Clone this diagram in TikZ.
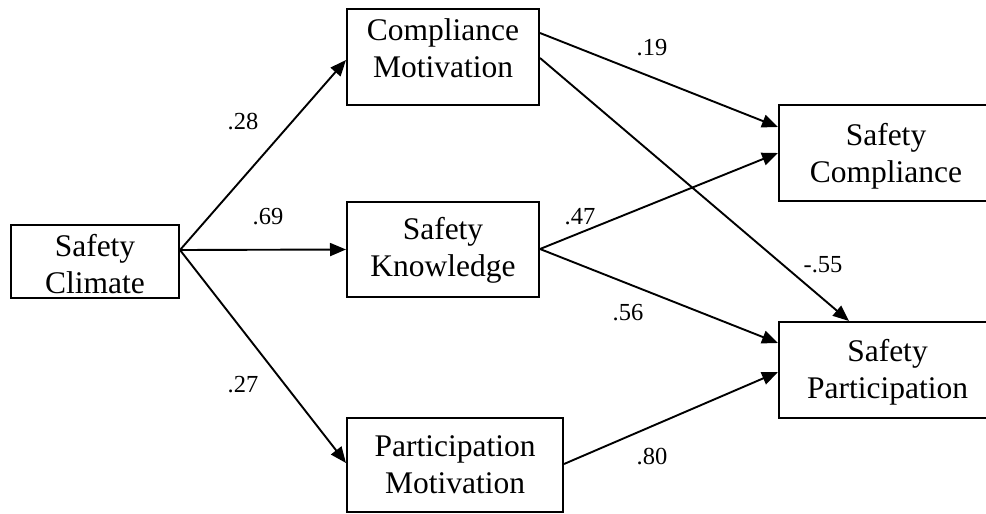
\documentclass[tikz,border=0pt]{standalone}
\usepackage{fontspec}
\setmainfont{Liberation Serif}
\usetikzlibrary{arrows.meta,calc}
\begin{document}
\begin{tikzpicture}[x=1pt,y=-1pt,
  box/.style={draw, line width=2pt, inner sep=0pt},
  boxtext/.style={align=center, inner sep=0pt, font=\fontsize{31.5}{36.7}\selectfont},
  effect/.style={line width=1.9pt, -{Triangle[length=16pt,width=13pt]}},
  coef/.style={inner sep=0pt, font=\fontsize{24.5}{28}\selectfont}]
\useasboundingbox (0,0) rectangle (986,514);
\fill[white] (0,0) rectangle (986,514);

% constructs
\node[box, minimum width=168pt, minimum height=73pt] (sc) at (95,261.5) {};
\node[box, minimum width=192pt, minimum height=96pt] (cm) at (443,57) {};
\node[box, minimum width=192pt, minimum height=95pt] (sk) at (443,249.5) {};
\node[box, minimum width=216pt, minimum height=94pt] (pm) at (455,465) {};
\node[box, minimum width=212pt, minimum height=96pt] (sco) at (885,153) {};
\node[box, minimum width=212pt, minimum height=96pt] (sp) at (885,370) {};

% construct names
\node[boxtext] (sc-t) at (95,264) {Safety\\Climate};
\node[boxtext] (cm-t) at (443,48.5) {Compliance\\Motivation};
\node[boxtext] (sk-t) at (443,250.5) {Safety\\Knowledge};
\node[boxtext] (pm-t) at (455,465) {Participation\\Motivation};
\node[boxtext] (sco-t) at (886,156.5) {Safety\\Compliance};
\node[boxtext] (sp-t) at (887.5,372) {Safety\\Participation};

% paths
\coordinate (src) at ($(sc.east)+(0,-11.5)$);
\draw[effect] (src) -- ($(cm.west)+(0,3)$);
\draw[effect] (src) -- (sk.west);
\draw[effect] (src) -- ($(pm.west)+(0,-2)$);
\draw[effect] ($(cm.east)+(0,-24)$) -- ($(sco.west)+(0,-26)$);
\draw[effect] ($(cm.east)+(0,1)$) -- ($(sp.north)+(-36,0)$);
\draw[effect] ($(sk.east)+(0,-0.5)$) -- (sco.west);
\draw[effect] ($(sk.east)+(0,-0.5)$) -- ($(sp.west)+(0,-27)$);
\draw[effect] ($(pm.east)+(0,-1)$) -- ($(sp.west)+(0,2)$);

% path coefficients
\node[coef] (c1) at (243,122) {.28};
\node[coef] (c2) at (268,217) {.69};
\node[coef] (c3) at (243,385) {.27};
\node[coef] (c4) at (652,48) {.19};
\node[coef] (c5) at (580,217) {.47};
\node[coef] (c6) at (628,313) {.56};
\node[coef] (c7) at (823,265) {-.55};
\node[coef] (c8) at (652,457) {.80};
\end{tikzpicture}
\end{document}
